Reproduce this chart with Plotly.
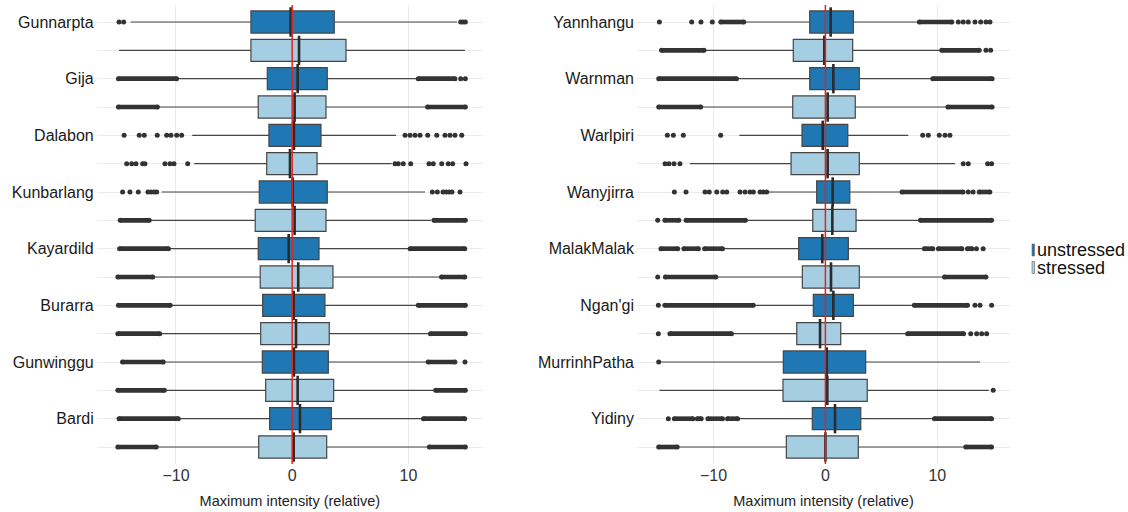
import plotly.graph_objects as go

# ---------------- data ----------------
STRESS = ["unstressed", "stressed"]
COLORS = {"unstressed": "#1F78B4", "stressed": "#A6CEE3"}
REF_LINE_X = 0
X_TICKS = [-10, 0, 10]
X_TITLE = "Maximum intensity (relative)"

LEFT_LANGS = ["Gunnarpta", "Gija", "Dalabon", "Kunbarlang", "Kayardild", "Burarra", "Gunwinggu", "Bardi"]
RIGHT_LANGS = ["Yannhangu", "Warnman", "Warlpiri", "Wanyjirra", "MalakMalak", "Ngan'gi", "MurrinhPatha", "Yidiny"]

# left panel, unstressed
L_U_Q1 = [-3.55, -2.14, -2.00, -2.83, -2.92, -2.54, -2.57, -1.94]
L_U_MED = [-0.13, 0.47, 0.15, 0.04, -0.30, 0.13, 0.15, 0.67]
L_U_Q3 = [3.62, 3.02, 2.48, 3.02, 2.31, 2.82, 3.11, 3.37]
L_U_LO = [-13.9, -9.8, -8.6, -11.23, -10.58, -10.43, -11.03, -9.72]
L_U_HI = [14.2, 10.71, 8.93, 11.43, 10.05, 10.77, 11.63, 11.23]
L_U_PTS = [
    [-14.9, -14.5, 14.5, 14.7, 14.9],
    [14.5, 14.9],
    [-14.46, -13.16, -12.73, -11.61, -10.8, -10.43, -9.94, -9.51,
     9.71, 10.14, 10.57, 11.0, 11.66, 12.44, 13.15, 13.58, 14.01, 14.59],
    [-14.59, -13.96, -13.24, -12.41, -12.15, -11.89, -11.66,
     12.06, 12.49, 12.98, 13.24, 13.5, 13.75, 14.44],
    [], [], [14.87], [],
]
L_U_BANDS = [
    [],
    [(-14.95, -9.95), (10.85, 14.0)],
    [],
    [],
    [(-14.85, -10.65), (10.15, 14.85)],
    [(-14.95, -10.5), (10.85, 14.9)],
    [(-14.6, -11.1), (11.7, 14.0)],
    [(-14.9, -9.8), (11.3, 14.85)],
]
# left panel, stressed
L_S_Q1 = [-3.55, -2.92, -2.19, -3.18, -2.75, -2.71, -2.28, -2.88]
L_S_MED = [0.59, 0.21, -0.19, 0.21, 0.52, 0.33, 0.47, 0.13]
L_S_Q3 = [4.63, 2.91, 2.14, 2.91, 3.51, 3.19, 3.57, 2.97]
L_S_LO = [-14.9, -11.52, -8.43, -12.24, -11.95, -11.32, -10.95, -11.66]
L_S_HI = [14.87, 11.57, 8.56, 11.94, 12.78, 11.86, 12.29, 11.77]
L_S_PTS = [
    [], [],
    [-14.24, -13.81, -13.44, -12.87, -12.67, -10.95, -10.52, -10.17, -8.99,
     8.85, 9.13, 9.56, 10.2, 11.77, 12.14, 12.87, 13.43, 13.81, 14.96],
    [], [], [], [], [],
]
L_S_BANDS = [
    [],
    [(-14.95, -11.6), (11.65, 14.9)],
    [],
    [(-14.8, -12.3), (12.2, 14.9)],
    [(-15.0, -12.0), (12.85, 14.85)],
    [(-15.0, -11.4), (11.9, 14.9)],
    [(-15.0, -11.0), (12.35, 14.9)],
    [(-15.0, -11.7), (11.8, 14.9)],
]

# right panel, unstressed
R_U_Q1 = [-1.40, -1.40, -2.09, -0.78, -2.39, -1.08, -3.76, -1.17]
R_U_MED = [0.47, 0.71, -0.24, 0.65, -0.28, 0.71, 0.12, 0.86]
R_U_Q3 = [2.50, 3.03, 2.00, 2.18, 2.05, 2.50, 3.60, 3.16]
R_U_LO = [-7.10, -7.84, -7.69, -5.10, -9.06, -6.35, -14.69, -7.78]
R_U_HI = [8.30, 9.50, 7.41, 6.73, 8.75, 7.86, 13.82, 9.64]
R_U_PTS = [
    [-14.84, -11.95, -11.12, -10.11, 11.88, 12.32, 12.77, 13.37, 13.88, 14.35, 14.71],
    [],
    [-14.13, -13.59, -12.70, -9.36, 8.70, 9.20, 10.18, 10.69, 11.13],
    [-13.5, -12.46, -10.76, -10.38, -9.71, -9.18, -8.82, -7.63, -7.18, -6.74,
     -6.44, -5.84, -5.55, -5.25, 12.77, 13.2],
    [13.5, 14.1],
    [-14.93, 13.37, 13.82, 14.86],
    [-14.9],
    [-14.04],
]
R_U_BANDS = [
    [(-9.35, -7.3), (8.4, 11.3)],
    [(-14.9, -7.95), (9.6, 14.9)],
    [],
    [(6.85, 12.3), (13.75, 14.7)],
    [(-14.7, -13.2), (-12.65, -11.35), (-10.8, -9.2), (8.85, 9.6), (10.1, 12.2), (12.7, 13.1)],
    [(-14.35, -6.45), (7.95, 12.7)],
    [],
    [(-13.5, -11.85), (-11.45, -11.1), (-10.5, -9.2), (-8.75, -7.85), (9.75, 14.85)],
]
# right panel, stressed
R_S_Q1 = [-2.87, -2.92, -3.07, -1.13, -2.06, -2.56, -3.79, -3.49]
R_S_MED = [-0.10, 0.20, 0.20, 0.62, 0.50, -0.48, 0.17, 0.00]
R_S_Q3 = [2.44, 2.67, 3.03, 2.74, 3.03, 1.37, 3.74, 2.94]
R_S_LO = [-10.76, -11.05, -12.10, -7.03, -9.71, -8.28, -14.84, -13.15]
R_S_HI = [10.30, 10.84, 11.58, 8.39, 10.54, 7.27, 14.60, 12.48]
R_S_PTS = [
    [14.35, 14.77],
    [],
    [-14.33, -13.98, -13.53, -13.0, 12.32, 12.77, 14.5, 14.86],
    [-14.99],
    [-14.99],
    [-14.93, 12.99, 13.52, 13.97, 14.41],
    [15.0],
    [],
]
R_S_BANDS = [
    [(-14.65, -10.85), (10.4, 13.75)],
    [(-14.9, -11.15), (10.95, 14.9)],
    [],
    [(-14.35, -13.1), (-12.45, -7.15), (8.5, 14.85)],
    [(-14.3, -9.8), (10.65, 14.35)],
    [(-13.9, -8.4), (7.35, 12.35)],
    [],
    [(-14.9, -13.25), (12.55, 14.85)],
]

# ---------------- figure ----------------
PANELS = [
    dict(langs=LEFT_LANGS, xa="x", ya="y",
         stats={"unstressed": (L_U_Q1, L_U_MED, L_U_Q3, L_U_LO, L_U_HI, L_U_PTS, L_U_BANDS),
                "stressed": (L_S_Q1, L_S_MED, L_S_Q3, L_S_LO, L_S_HI, L_S_PTS, L_S_BANDS)}),
    dict(langs=RIGHT_LANGS, xa="x2", ya="y2",
         stats={"unstressed": (R_U_Q1, R_U_MED, R_U_Q3, R_U_LO, R_U_HI, R_U_PTS, R_U_BANDS),
                "stressed": (R_S_Q1, R_S_MED, R_S_Q3, R_S_LO, R_S_HI, R_S_PTS, R_S_BANDS)}),
]

def row_name(lang, s):
    return f"{lang} ({s})"

OUT_COLOR = "#333333"
fig = go.Figure()
for p in PANELS:
    pts_x, pts_y, band_x, band_y, med_x, med_y = [], [], [], [], [], []
    for s in STRESS:
        q1, med, q3, lo, hi, pts, bands = p["stats"][s]
        cats = [row_name(l, s) for l in p["langs"]]
        fig.add_trace(go.Box(
            y=cats, q1=q1, median=med, q3=q3, lowerfence=lo, upperfence=hi,
            orientation="h", fillcolor=COLORS[s],
            line=dict(color="#454545", width=1.2), whiskerwidth=0, width=0.78,
            boxpoints=False, name=s, showlegend=False,
            xaxis=p["xa"], yaxis=p["ya"], hoverinfo="skip"))
        med_x += med
        med_y += cats
        for c, plist, blist in zip(cats, pts, bands):
            for v in plist:
                pts_x.append(v)
                pts_y.append(c)
            for a, b in blist:
                band_x += [a, b, None]
                band_y += [c, c, None]
    # thicker median strokes
    fig.add_trace(go.Scatter(x=med_x, y=med_y, mode="markers",
                             marker=dict(symbol="line-ns", size=21,
                                         line=dict(color="#2b2b2b", width=2.6)),
                             showlegend=False, hoverinfo="skip",
                             xaxis=p["xa"], yaxis=p["ya"]))
    fig.add_trace(go.Scatter(x=band_x, y=band_y, mode="lines+markers",
                             line=dict(color=OUT_COLOR, width=4.6),
                             marker=dict(color=OUT_COLOR, size=5),
                             showlegend=False, hoverinfo="skip",
                             xaxis=p["xa"], yaxis=p["ya"]))
    fig.add_trace(go.Scatter(x=pts_x, y=pts_y, mode="markers",
                             marker=dict(color=OUT_COLOR, size=5),
                             showlegend=False, hoverinfo="skip",
                             xaxis=p["xa"], yaxis=p["ya"]))
    fig.add_shape(type="line", xref=p["xa"], yref=p["ya"] + " domain",
                  x0=REF_LINE_X, x1=REF_LINE_X, y0=0, y1=1,
                  line=dict(color="#e3241c", width=1.5), layer="above")

FONT = "Liberation Sans, Arial, Helvetica, sans-serif"
GRID = "#ebebeb"
YDOM = [48 / 512, 507 / 512]

def yaxis_cfg(langs, anchor):
    rows = [row_name(l, s) for l in langs for s in STRESS]
    text = [l if s == "unstressed" else "" for l in langs for s in STRESS]
    return dict(type="category", categoryorder="array", categoryarray=rows,
                range=[len(rows) - 0.4, -0.6], tickvals=rows, ticktext=text,
                showgrid=True, gridcolor=GRID, gridwidth=1, zeroline=False,
                showline=False, ticks="", domain=YDOM, anchor=anchor,
                ticklabelstandoff=2,
                tickfont=dict(size=16, color="#1a1a1a", family=FONT))

def xaxis_cfg(dom, rng, anchor):
    return dict(domain=dom, range=rng, tickvals=X_TICKS, showgrid=True,
                gridcolor=GRID, gridwidth=1, zeroline=False, showline=False,
                ticks="", anchor=anchor,
                tickfont=dict(size=16, color="#333333", family=FONT),
                title=dict(text=X_TITLE, standoff=12,
                           font=dict(size=14.5, color="#222222", family=FONT)))

fig.update_layout(
    width=1128, height=512, margin=dict(l=0, r=0, t=0, b=0),
    paper_bgcolor="white", plot_bgcolor="white", boxmode="overlay",
    font=dict(family=FONT),
    xaxis=xaxis_cfg([96.7 / 1128, 483 / 1128], [-16.82, 16.42], "y"),
    xaxis2=xaxis_cfg([637 / 1128, 1010 / 1128], [-16.84, 16.5], "y2"),
    yaxis=yaxis_cfg(LEFT_LANGS, "x"),
    yaxis2=yaxis_cfg(RIGHT_LANGS, "x2"),
)

# legend drawn as keys + text labels at the right
for i, s in enumerate(STRESS):
    yc = 250 + i * 17.5
    fig.add_shape(type="rect", xref="paper", yref="paper",
                  x0=1032 / 1128, x1=1034.5 / 1128,
                  y0=1 - (yc + 6) / 512, y1=1 - (yc - 6) / 512,
                  fillcolor=COLORS[s], line=dict(color="#666666", width=0.6))
    fig.add_annotation(text=s, xref="paper", yref="paper",
                       x=1034.5 / 1128, y=1 - yc / 512, xanchor="left",
                       yanchor="middle", showarrow=False,
                       font=dict(size=18, color="#111111", family=FONT))

fig.write_html("out.html", config={"displayModeBar": False},
               post_script="document.body.style.margin='0px';")
